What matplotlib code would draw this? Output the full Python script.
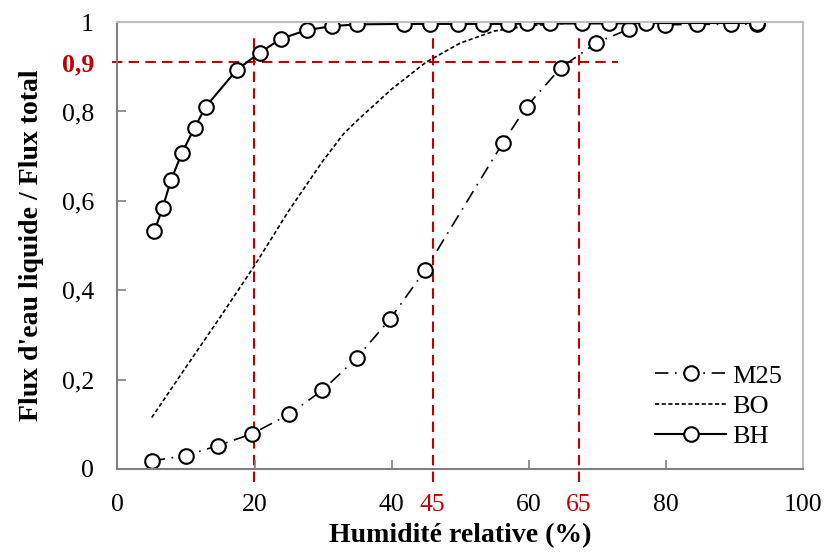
import matplotlib
matplotlib.use("Agg")
import matplotlib.pyplot as plt

plt.rcParams['font.family'] = ['Liberation Serif', 'DejaVu Serif']

# ---- data ----
bh_x = [5.4, 6.6, 7.8, 9.4, 11.25, 12.9, 17.4, 20.8, 23.9, 27.6, 31.3, 35.0,
        41.8, 45.6, 49.7, 53.4, 57.0, 59.7, 63.1, 67.8, 71.7, 77.2, 93.3]
bh_y = [0.533, 0.585, 0.646, 0.707, 0.764, 0.811, 0.893, 0.932, 0.963, 0.982, 0.991, 0.995,
        0.996, 0.996, 0.996, 0.996, 0.996, 0.997, 0.997, 0.997, 0.997, 0.998, 0.998]

m25_x = [5.0, 10.0, 14.6, 19.7, 25.0, 29.9, 34.9, 39.8, 44.9, 56.2, 59.7, 64.7,
         69.9, 74.6, 79.9, 84.6, 89.6, 93.3]
m25_y = [0.018, 0.030, 0.052, 0.079, 0.122, 0.176, 0.248, 0.336, 0.445, 0.729, 0.811, 0.898,
         0.954, 0.984, 0.994, 0.995, 0.995, 0.996]

bo_x = [5, 10, 15, 20, 25, 30, 33, 35, 40, 45, 50, 55, 60, 65, 70, 80, 93]
bo_y = [0.115, 0.228, 0.34, 0.455, 0.578, 0.69, 0.75, 0.78, 0.85, 0.91, 0.953, 0.98,
        0.992, 0.997, 0.999, 1.0, 1.0]

x_ticks = [0, 20, 40, 60, 80, 100]
y_ticks = [0, 0.2, 0.4, 0.6, 0.8, 1]
y_tick_labels = ['0', '0,2', '0,4', '0,6', '0,8', '1']
# hand-drawn reference lines (positions as drawn) and their labels
hr_marks = [19.9, 46.0, 67.3]
hr_mark_labels = ['45', '65']
ratio_mark = 0.91
ratio_label = '0,9'

red = '#c00000'

fig = plt.figure(figsize=(8.25, 5.53), dpi=100)
ax = fig.add_axes([0.1424, 0.152, 0.8306, 0.808])

mk = dict(marker='o', markersize=10.5, markerfacecolor='white',
          markeredgecolor='black', markeredgewidth=1.5, color='black')

ax.plot(m25_x, m25_y, linestyle=(0, (8, 4, 1, 4)), linewidth=1.2, label='M25', **mk)
ax.plot(bo_x, bo_y, linestyle=(0, (2.5, 1.5)), linewidth=1.2, color='black', label='BO')
ax.plot(bh_x, bh_y, linestyle='-', linewidth=1.5, label='BH', **mk)

# red reference lines
for xv in hr_marks:
    ax.plot([xv, xv], [-0.03, 0.966], color=red, linestyle=(0, (5, 3)),
            linewidth=1.5, clip_on=False, zorder=1)
ax.plot([-0.8, 73], [ratio_mark, ratio_mark], color=red, linestyle=(0, (5, 3)),
        linewidth=1.5, clip_on=False, zorder=1)

ax.set_xlim(0, 100)
ax.set_ylim(0, 1)

ax.set_xticks(x_ticks)
ax.set_xticklabels([str(v) for v in x_ticks])
ax.set_yticks(y_ticks)
ax.set_yticklabels(y_tick_labels)

ax.set_xticks(hr_marks[1:], minor=True)
ax.set_xticklabels(hr_mark_labels, minor=True)
ax.set_yticks([ratio_mark], minor=True)
ax.set_yticklabels([ratio_label], minor=True, fontweight='bold')

fs = 18.5
ax.tick_params(axis='both', which='major', direction='in', length=6.5, width=1.2,
               color='#7f7f7f', labelsize=fs)
ax.tick_params(axis='x', which='major', pad=18)
ax.tick_params(axis='y', which='major', pad=17)
ax.tick_params(axis='x', which='minor', length=0, labelsize=fs, labelcolor=red, pad=18)
ax.tick_params(axis='y', which='minor', length=0, labelsize=fs, labelcolor=red, pad=17)

for s in ['left', 'bottom']:
    ax.spines[s].set_color('#7f7f7f')
    ax.spines[s].set_linewidth(1.5)
for s in ['top', 'right']:
    ax.spines[s].set_color('#bfbfbf')
    ax.spines[s].set_linewidth(1.5)

ax.set_xlabel('Humidité relative (%)', fontsize=20, fontweight='bold', labelpad=5)
ax.set_ylabel("Flux d'eau liquide / Flux total", fontsize=20, fontweight='bold', labelpad=13)

ax.legend(loc='lower right', bbox_to_anchor=(1.0, 0.0), frameon=False, fontsize=19,
          handlelength=2.7, handletextpad=0.2, labelspacing=0.25, borderaxespad=0.4)

fig.savefig('out.png', dpi=100)
